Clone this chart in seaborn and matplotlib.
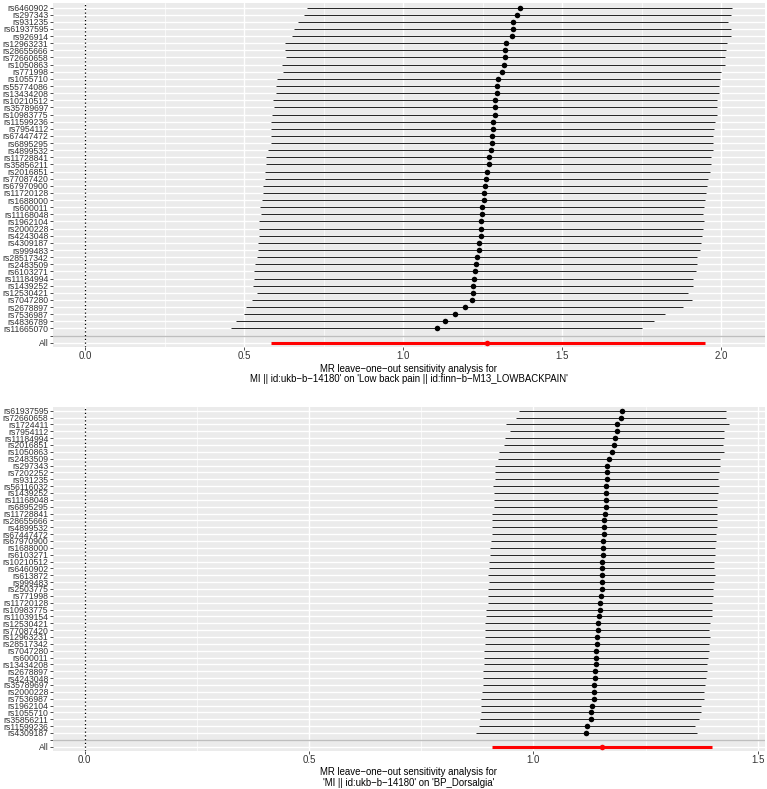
import numpy as np
import pandas as pd
import matplotlib
matplotlib.use("Agg")
import matplotlib.pyplot as plt
import seaborn as sns

# ---------------- data: top panel (Low back pain) ----------------
snps_top = ["rs6460902", "rs297343", "rs931235", "rs61937595", "rs926914", "rs12963231",
            "rs28655666", "rs72660658", "rs1050863", "rs771998", "rs1055710", "rs55774086",
            "rs13434208", "rs10210512", "rs35789697", "rs10983775", "rs11599236", "rs7954112",
            "rs67447472", "rs6895295", "rs4899532", "rs11728841", "rs35856211", "rs2016851",
            "rs77087420", "rs67970900", "rs11720128", "rs1688000", "rs600011", "rs11168048",
            "rs1962104", "rs2000228", "rs4243048", "rs4309187", "rs999483", "rs28517342",
            "rs2483509", "rs6103271", "rs11184994", "rs1439252", "rs12530421", "rs7047280",
            "rs2678897", "rs7536987", "rs4836789", "rs11665070"]
b_top = [1.366, 1.358, 1.344, 1.344, 1.340, 1.321, 1.320, 1.319, 1.316, 1.310,
         1.296, 1.295, 1.295, 1.288, 1.287, 1.287, 1.282, 1.281, 1.279, 1.278,
         1.274, 1.269, 1.268, 1.264, 1.260, 1.256, 1.254, 1.252, 1.248, 1.246,
         1.245, 1.244, 1.243, 1.239, 1.237, 1.231, 1.227, 1.224, 1.221, 1.218,
         1.218, 1.216, 1.193, 1.161, 1.131, 1.105]
lo_top = [0.698, 0.688, 0.669, 0.657, 0.649, 0.626, 0.628, 0.630, 0.618, 0.620,
          0.603, 0.600, 0.600, 0.591, 0.592, 0.587, 0.584, 0.585, 0.582, 0.583,
          0.573, 0.569, 0.568, 0.566, 0.565, 0.558, 0.558, 0.554, 0.550, 0.551,
          0.546, 0.546, 0.547, 0.542, 0.542, 0.538, 0.534, 0.531, 0.531, 0.527,
          0.541, 0.524, 0.506, 0.500, 0.475, 0.457]
hi_top = [2.034, 2.030, 2.022, 2.030, 2.030, 2.018, 2.014, 2.011, 2.012, 1.999,
          1.994, 1.993, 1.991, 1.986, 1.985, 1.986, 1.980, 1.978, 1.975, 1.973,
          1.973, 1.968, 1.968, 1.963, 1.958, 1.955, 1.952, 1.949, 1.946, 1.943,
          1.946, 1.942, 1.940, 1.937, 1.933, 1.924, 1.924, 1.920, 1.911, 1.910,
          1.895, 1.907, 1.878, 1.823, 1.788, 1.751]
all_top = [1.264, 0.582, 1.948]   # b, lo, hi
title_top = ("MR leave\u2212one\u2212out sensitivity analysis for\n"
             "MI || id:ukb\u2212b\u221214180' on 'Low back pain || id:finn\u2212b\u2212M13_LOWBACKPAIN'")
xticks_top = [0.0, 0.5, 1.0, 1.5, 2.0]

# ---------------- data: bottom panel (BP_Dorsalgia) ----------------
snps_bot = ["rs61937595", "rs72660658", "rs1724411", "rs7954112", "rs11184994", "rs2016851",
            "rs1050863", "rs2483509", "rs297343", "rs7202252", "rs931235", "rs56116032",
            "rs1439252", "rs11168048", "rs6895295", "rs11728841", "rs28655666", "rs4899532",
            "rs67447472", "rs67970900", "rs1688000", "rs6103271", "rs10210512", "rs6460902",
            "rs613872", "rs999483", "rs2503775", "rs771998", "rs11720128", "rs10983775",
            "rs11039154", "rs12530421", "rs77087420", "rs12963231", "rs28517342", "rs7047280",
            "rs600011", "rs13434208", "rs2678897", "rs4243048", "rs35789697", "rs2000228",
            "rs7536987", "rs1962104", "rs1055710", "rs35856211", "rs11599236", "rs4309187"]
b_bot = [1.198, 1.196, 1.187, 1.187, 1.181, 1.179, 1.175, 1.169, 1.164, 1.164,
         1.163, 1.162, 1.161, 1.161, 1.161, 1.160, 1.158, 1.158, 1.157, 1.156,
         1.155, 1.154, 1.153, 1.153, 1.152, 1.152, 1.152, 1.151, 1.149, 1.148,
         1.146, 1.145, 1.143, 1.142, 1.142, 1.140, 1.140, 1.140, 1.137, 1.137,
         1.135, 1.134, 1.134, 1.131, 1.129, 1.128, 1.120, 1.117]
lo_bot = [0.969, 0.961, 0.938, 0.947, 0.937, 0.935, 0.924, 0.921, 0.915, 0.915,
          0.915, 0.910, 0.913, 0.913, 0.912, 0.908, 0.907, 0.907, 0.907, 0.905,
          0.904, 0.903, 0.902, 0.902, 0.900, 0.901, 0.899, 0.899, 0.898, 0.895,
          0.894, 0.893, 0.893, 0.892, 0.892, 0.891, 0.889, 0.889, 0.888, 0.887,
          0.887, 0.886, 0.884, 0.883, 0.883, 0.882, 0.879, 0.872]
hi_bot = [1.429, 1.430, 1.435, 1.424, 1.424, 1.423, 1.424, 1.416, 1.416, 1.414,
          1.412, 1.413, 1.412, 1.408, 1.410, 1.409, 1.409, 1.408, 1.406, 1.406,
          1.405, 1.404, 1.403, 1.403, 1.404, 1.403, 1.401, 1.400, 1.399, 1.398,
          1.398, 1.394, 1.391, 1.394, 1.391, 1.391, 1.389, 1.387, 1.386, 1.384,
          1.383, 1.380, 1.380, 1.374, 1.374, 1.368, 1.361, 1.364]
all_bot = [1.153, 0.907, 1.398]
title_bot = ("MR leave\u2212one\u2212out sensitivity analysis for\n"
             "'MI || id:ukb\u2212b\u221214180' on 'BP_Dorsalgia'")
xticks_bot = [0.0, 0.5, 1.0, 1.5]

# ---------------- style ----------------
sns.set_theme(style="darkgrid", rc={
    "axes.facecolor": "#EBEBEB",
    "grid.color": "white",
    "axes.edgecolor": "none",
})
plt.rcParams["font.family"] = ["Liberation Sans", "DejaVu Sans"]

W, H = 767, 789
fig = plt.figure(figsize=(W / 100, H / 100), dpi=100)


def panel(rect_px, xlim, snps, b, lo, hi, allv, title, xticks):
    x0, y0, x1, y1 = rect_px
    ax = fig.add_axes([x0 / W, 1 - y1 / H, (x1 - x0) / W, (y1 - y0) / H])
    labels = list(snps) + ["", "All"]
    n = len(labels)
    df = pd.DataFrame({"SNP": snps, "b": b, "lo": lo, "hi": hi})
    df["pos"] = np.arange(len(snps))
    dall = pd.DataFrame({"SNP": ["All"], "b": [allv[0]], "lo": [allv[1]],
                         "hi": [allv[2]], "pos": [n - 1]})

    ax.grid(False)
    xmin, xmax = xlim
    for yy in range(n):
        ax.axhline(yy, color="white", lw=1.0, zorder=0.5)
    for xx in xticks:
        ax.axvline(xx, color="white", lw=1.0, zorder=0.5)
    for xx in np.arange(0.25, xmax, 0.5):
        ax.axvline(xx, color="white", lw=0.5, zorder=0.5)

    ax.axhline(n - 2, color="#BEBEBE", lw=1.0, zorder=1)
    ax.axvline(0, color="black", lw=0.9, ls=(0, (1, 2)), zorder=1)

    ax.hlines(df["pos"], df["lo"], df["hi"], color="black", lw=0.6, zorder=2)
    ax.hlines(dall["pos"], dall["lo"], dall["hi"], color="red", lw=2.2, zorder=2)
    sns.scatterplot(data=df, x="b", y="pos", color="black", s=16, linewidth=0,
                    ax=ax, zorder=3, legend=False)
    sns.scatterplot(data=dall, x="b", y="pos", color="red", s=16, linewidth=0,
                    ax=ax, zorder=3, legend=False)

    ax.set_xlim(xmin, xmax)
    ax.set_ylim(n - 1 + 0.6, -0.6)
    ax.set_yticks(range(n))
    ax.set_yticklabels(labels)
    ax.set_xticks(xticks)
    ax.set_xticklabels([f"{t:.1f}" for t in xticks])
    ax.tick_params(axis="y", labelsize=6.2, colors="#333333", length=2.2, width=0.6,
                   pad=1.2, left=True, labelcolor="#333333")
    ax.tick_params(axis="x", labelsize=7.0, colors="#333333", length=2.2, width=0.6,
                   pad=0.6, bottom=True, labelcolor="#333333")
    ax.set_ylabel("")
    ax.set_xlabel(title, fontsize=6.9, color="black", labelpad=2.0, linespacing=1.1)
    for s in ax.spines.values():
        s.set_visible(False)
    return ax


panel((53, 3.3, 765, 347), (-0.102, 2.137), snps_top, b_top, lo_top, hi_top,
      all_top, title_top, xticks_top)
panel((53, 406.6, 765, 750.8), (-0.0702, 1.516), snps_bot, b_bot, lo_bot, hi_bot,
      all_bot, title_bot, xticks_bot)

fig.savefig("out.png", dpi=100, facecolor="white")
